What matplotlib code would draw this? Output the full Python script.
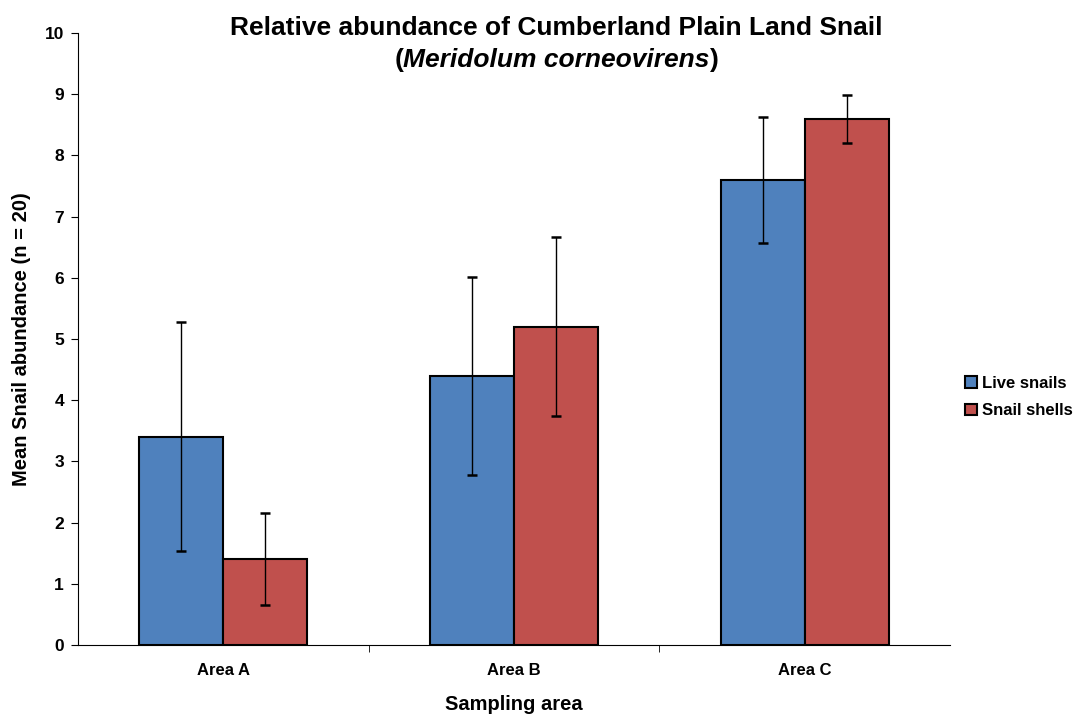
import numpy as np
import matplotlib.pyplot as plt

# data
areas = ['Area A', 'Area B', 'Area C']
live_mean = [3.4, 4.4, 7.6]
live_err = [1.87, 1.62, 1.03]
shell_mean = [1.4, 5.2, 8.6]
shell_err = [0.75, 1.46, 0.39]
series_names = ['Live snails', 'Snail shells']

plt.rcParams['font.family'] = ['Liberation Sans', 'DejaVu Sans']
plt.rcParams['font.weight'] = 'bold'

fig = plt.figure(figsize=(10.74, 7.17), dpi=100)
ax = fig.add_axes([0.0726, 0.1004, 0.812, 0.8536])

x = np.arange(len(areas))
w = 0.289
err_kw = dict(ecolor='black', elinewidth=1.0, capsize=3.5, capthick=1.8)
ax.bar(x - w / 2, live_mean, w, yerr=live_err, color='#4F81BD',
       edgecolor='black', linewidth=1.5, error_kw=err_kw, label=series_names[0])
ax.bar(x + w / 2, shell_mean, w, yerr=shell_err, color='#C0504D',
       edgecolor='black', linewidth=1.5, error_kw=err_kw, label=series_names[1])

ax.set_xlim(-0.5, 2.5)
ax.set_ylim(0, 10)
ax.set_yticks(range(0, 11))
ax.set_xticks(x)
ax.set_xticklabels(areas, fontsize=12, fontweight='bold')
ax.set_xticks([0.5, 1.5], minor=True)
ax.tick_params(axis='x', which='major', length=0, pad=13)
ax.tick_params(axis='x', which='minor', length=5, direction='out')
ax.tick_params(axis='y', labelsize=12.5, length=5, direction='out', pad=5)
for lab in ax.get_yticklabels():
    lab.set_fontweight('bold')

for side in ['top', 'right']:
    ax.spines[side].set_visible(False)

ax.set_xlabel('Sampling area', fontsize=14.5, fontweight='bold', labelpad=12)
ax.set_ylabel('Mean Snail abundance (n = 20)', fontsize=14.5, fontweight='bold', labelpad=10)

# title: second line has italic species name inside upright parentheses
tx = 0.518
fig.text(tx, 0.961, 'Relative abundance of Cumberland Plain Land Snail',
         ha='center', va='center', fontsize=19, fontweight='bold')
sp = fig.text(tx, 0.916, 'Meridolum corneovirens', ha='center', va='center',
              fontsize=19, fontweight='bold', style='italic')
fig.canvas.draw()
bb = sp.get_window_extent().transformed(fig.transFigure.inverted())
fig.text(bb.x0, 0.916, '(', ha='right', va='center', fontsize=19, fontweight='bold')
fig.text(bb.x1, 0.916, ')', ha='left', va='center', fontsize=19, fontweight='bold')

leg = ax.legend(loc='center left', bbox_to_anchor=(1.01, 0.405), frameon=False,
                fontsize=12, handlelength=0.7, handleheight=0.7, handletextpad=0.3,
                labelspacing=0.75, borderaxespad=0)
for t in leg.get_texts():
    t.set_fontweight('bold')

fig.savefig('out.png', dpi=100)
